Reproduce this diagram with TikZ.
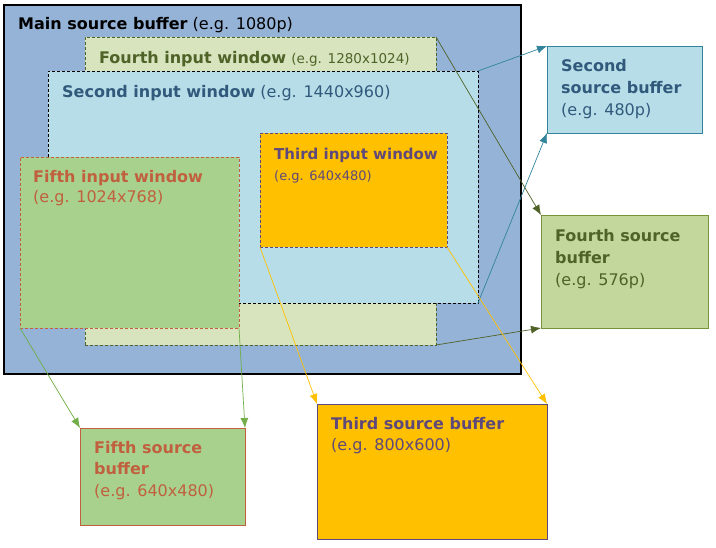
\documentclass[tikz,border=0pt]{standalone}
\usepackage{fontspec}
\setmainfont{DejaVu Sans}
\usetikzlibrary{positioning,arrows.meta}
\definecolor{mainfill}{HTML}{95B3D7}
\definecolor{fourfill}{HTML}{D7E4BD}
\definecolor{fourdark}{HTML}{4F6228}
\definecolor{fourbuf}{HTML}{C3D69B}
\definecolor{fourline}{HTML}{77933C}
\definecolor{twofill}{HTML}{B7DEE8}
\definecolor{twotext}{HTML}{31597C}
\definecolor{twoline}{HTML}{31849B}
\definecolor{threefill}{HTML}{FFC000}
\definecolor{threeline}{HTML}{5F497A}
\definecolor{fivefill}{HTML}{A9D18E}
\definecolor{fiveline}{HTML}{C0603E}
\definecolor{fivearrow}{HTML}{70AD47}

\begin{document}
\begin{tikzpicture}[x=1pt,y=-1pt,
        box/.style={draw,rectangle,anchor=north west,inner sep=0pt,outer sep=0pt},
        win/.style={box,dash pattern=on 3pt off 2pt,line width=0.7pt},
        txt/.style={inner sep=0pt,align=left,font=\fontsize{16}{22}\selectfont},
        link/.style={-{Latex[length=10pt,width=8pt]},line width=0.7pt}]
   \useasboundingbox (0,0) rectangle (716,548);
   \node (main) [box,fill=mainfill,line width=1.2pt,minimum width=517pt,minimum height=369pt] at (4,5) {};
   \node (win4) [win,draw=fourdark,fill=fourfill,minimum width=351pt,minimum height=308pt] at (85,37) {};
   \node (win2) [win,draw=black,fill=twofill,minimum width=430pt,minimum height=232pt] at (48,71) {};
   \node (win3) [win,draw=threeline,fill=threefill,minimum width=187pt,minimum height=114pt] at (260,133) {};
   \node (win5) [win,draw=fiveline,fill=fivefill,minimum width=219pt,minimum height=171pt] at (20,157) {};
   \node (buf2) [box,draw=twoline,fill=twofill,line width=0.9pt,minimum width=155pt,minimum height=87pt] at (547,46) {};
   \node (buf4) [box,draw=fourline,fill=fourbuf,line width=0.9pt,minimum width=167pt,minimum height=113pt] at (541,215) {};
   \node (buf5) [box,draw=fiveline,fill=fivefill,line width=0.9pt,minimum width=165pt,minimum height=97pt] at (80,428) {};
   \node (buf3) [box,draw=threeline,fill=threefill,line width=0.9pt,minimum width=230pt,minimum height=135pt] at (317,404) {};

   \node (mainlbl) [txt,below right=12pt and 14pt of main.north west] {\textbf{Main source buffer} (e.g. 1080p)};
   \node (win4lbl) [txt,text=fourdark,below right=14pt and 14pt of win4.north west] {\textbf{Fourth input window} {\fontsize{13.5}{22}\selectfont(e.g. 1280x1024)}};
   \node (win2lbl) [txt,text=twotext,below right=14pt and 14pt of win2.north west] {\textbf{Second input window} (e.g. 1440x960)};
   \node (win3lbl) [txt,text=threeline,font=\fontsize{15}{21}\selectfont,below right=15pt and 14pt of win3.north west] {\textbf{Third input window}\\{\fontsize{13}{21}\selectfont(e.g. 640x480)}};
   \node (win5lbl) [txt,text=fiveline,font=\fontsize{16}{20}\selectfont,below right=13pt and 13pt of win5.north west] {\textbf{Fifth input window}\\(e.g. 1024x768)};
   \node (buf2lbl) [txt,text=twotext,below right=13pt and 14pt of buf2.north west] {\textbf{Second}\\\textbf{source buffer}\\(e.g. 480p)};
   \node (buf4lbl) [txt,text=fourdark,below right=14pt and 14pt of buf4.north west] {\textbf{Fourth source}\\\textbf{buffer}\\(e.g. 576p)};
   \node (buf5lbl) [txt,text=fiveline,font=\fontsize{16}{21.5}\selectfont,below right=13pt and 14pt of buf5.north west] {\textbf{Fifth source}\\\textbf{buffer}\\(e.g. 640x480)};
   \node (buf3lbl) [txt,text=threeline,font=\fontsize{16}{21}\selectfont,below right=13pt and 14pt of buf3.north west] {\textbf{Third source buffer}\\(e.g. 800x600)};

   \draw[link,twoline] (win2.north east) -- (buf2.north west);
   \draw[link,twoline] (win2.south east) -- (buf2.south west);
   \draw[link,fourdark] (win4.north east) -- (buf4.north west);
   \draw[link,fourdark] (win4.south east) -- (buf4.south west);
   \draw[link,fivearrow] (win5.south west) -- (buf5.north west);
   \draw[link,fivearrow] (win5.south east) -- (buf5.north east);
   \draw[link,threefill] (win3.south west) -- (buf3.north west);
   \draw[link,threefill] (win3.south east) -- (buf3.north east);
\end{tikzpicture}
\end{document}
